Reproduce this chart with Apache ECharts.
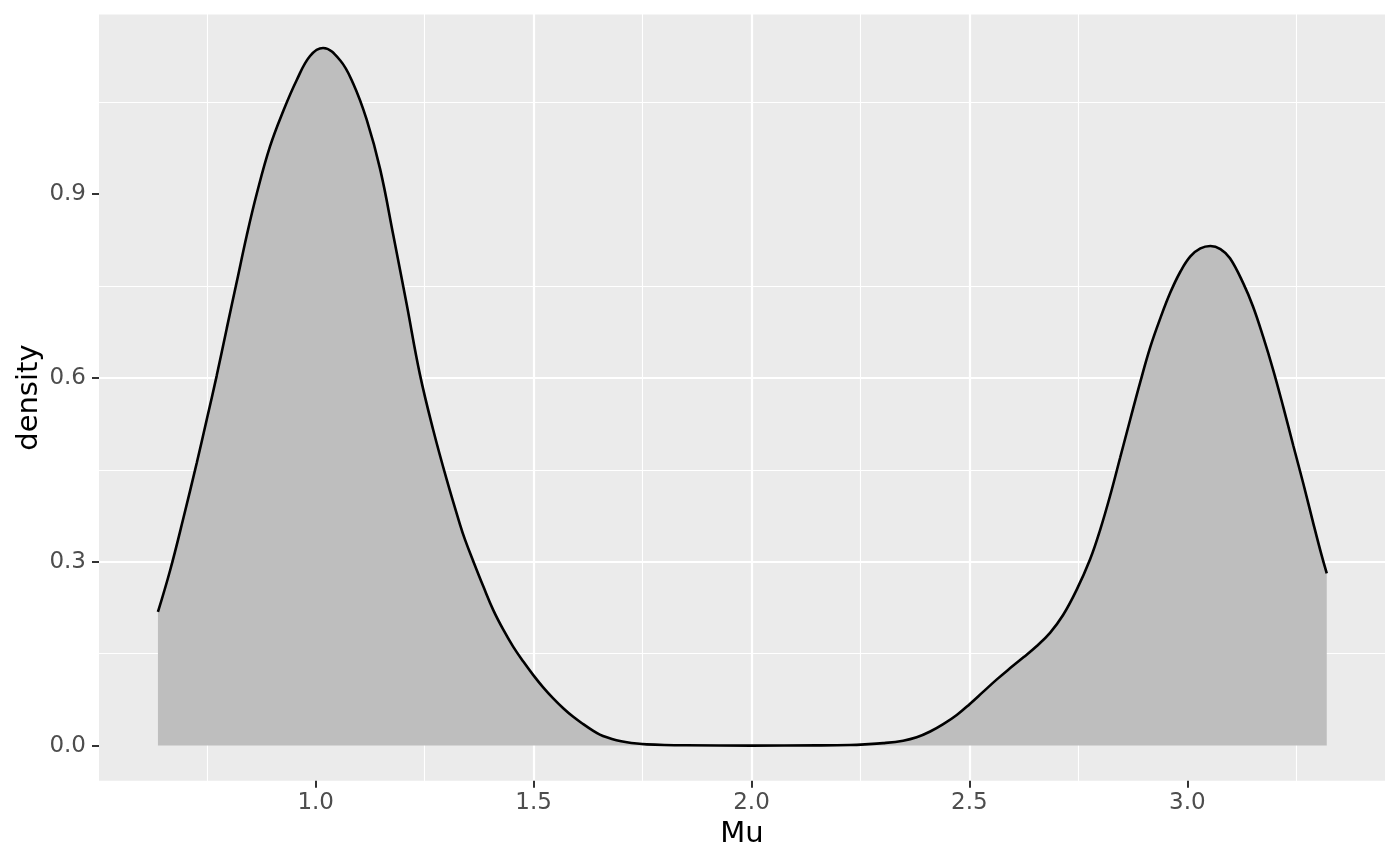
<!DOCTYPE html>
<html><head><meta charset="utf-8">
<script src="https://cdn.jsdelivr.net/npm/echarts@6/dist/echarts.min.js"></script>
<style>html,body{margin:0;padding:0;background:#fff}#c{width:1400px;height:865px}</style>
</head><body><div id="c"></div>
<script>
// ---- data ----
const muValues = [0.638,0.666,0.696,0.727,0.750,0.773,0.796,0.819,0.842,0.865,0.895,0.926,0.956,0.987,1.017,1.056,1.086,1.117,1.148,1.178,1.209,1.239,1.270,1.301,1.331,1.3426,1.362,1.385,1.4075,1.4305,1.4534,1.4764,1.4993,1.522,1.545,1.568,1.591,1.614,1.637,1.652,1.668,1.690,1.714,1.737,1.760,1.800,1.850,2.000,2.150,2.226,2.260,2.302,2.348,2.379,2.410,2.440,2.471,2.501,2.532,2.563,2.593,2.624,2.654,2.685,2.715,2.746,2.777,2.800,2.823,2.846,2.869,2.892,2.915,2.938,2.961,2.984,3.007,3.030,3.053,3.076,3.098,3.1285,3.151,3.174,3.197,3.220,3.243,3.266,3.289,3.308,3.320];
const densityValues = [0.218,0.286,0.370,0.461,0.532,0.604,0.681,0.757,0.833,0.901,0.977,1.036,1.085,1.125,1.138,1.118,1.080,1.021,0.940,0.833,0.719,0.606,0.514,0.433,0.361,0.336,0.300,0.259,0.221,0.189,0.161,0.137,0.115,0.095,0.077,0.061,0.047,0.035,0.024,0.018,0.0135,0.0088,0.0054,0.0033,0.002,0.001,0.0005,0.0,0.0004,0.001,0.002,0.004,0.008,0.0135,0.023,0.035,0.050,0.068,0.088,0.108,0.126,0.144,0.162,0.184,0.213,0.254,0.304,0.352,0.408,0.470,0.532,0.593,0.650,0.697,0.739,0.773,0.798,0.811,0.815,0.810,0.795,0.754,0.716,0.667,0.613,0.553,0.490,0.428,0.363,0.311,0.281];
const xTickValues = [1.0,1.5,2.0,2.5,3.0];
const yTickValues = [0.0,0.3,0.6,0.9];
const xTitle = 'Mu';
const yTitle = 'density';

// ---- layout ----
const panel = {x: 99, y: 14.5, w: 1286, h: 766.2};
const gridLeft = 97.8, gridWidth = 1307.4, gridTop = 10.0, gridHeight = 919.5;
const FONT = '"DejaVu Sans", sans-serif';

const seriesData = muValues.map((m, i) => [m, densityValues[i]]);
const chart = echarts.init(document.getElementById('c'), null, {renderer: 'canvas'});

const axisCommon = {
  type: 'value',
  axisLine: {show: false, onZero: false},
  minorTick: {show: false, splitNumber: 2},
  minorSplitLine: {show: true, lineStyle: {color: '#FFFFFF', width: 1.1}},
  splitLine: {show: true, showMinLine: false, showMaxLine: false, lineStyle: {color: '#FFFFFF', width: 2.2}}
};

chart.setOption({
  animation: false,
  backgroundColor: '#FFFFFF',
  grid: {left: gridLeft, top: gridTop, width: gridWidth, height: gridHeight, outerBoundsMode: 'none', containLabel: false},
  xAxis: Object.assign({}, axisCommon, {
    min: 0.5, max: 3.5, interval: 0.5,
    offset: -(gridTop + gridHeight - (panel.y + panel.h)),
    axisTick: {show: true, length: 7, lineStyle: {color: '#333333', width: 2}, customValues: xTickValues},
    axisLabel: {customValues: xTickValues, formatter: v => xTickValues.some(t => Math.abs(t - v) < 1e-9) ? v.toFixed(1) : '',
      color: '#4D4D4D', fontSize: 23, fontFamily: FONT, margin: 11}
  }),
  yAxis: Object.assign({}, axisCommon, {
    min: -0.3, max: 1.2, interval: 0.3,
    offset: -(panel.x - gridLeft),
    axisTick: {show: true, length: 7, lineStyle: {color: '#333333', width: 2}, customValues: yTickValues},
    axisLabel: {customValues: yTickValues, formatter: v => yTickValues.some(t => Math.abs(t - v) < 1e-9) ? v.toFixed(1) : '',
      color: '#4D4D4D', fontSize: 23, fontFamily: FONT, margin: 13}
  }),
  graphic: {elements: [
    {type: 'rect', z: -10, silent: true, shape: {x: panel.x, y: panel.y, width: panel.w, height: panel.h}, style: {fill: '#EBEBEB'}},
    {type: 'text', z: 100, x: panel.x + panel.w / 2, y: 834, silent: true,
      style: {text: xTitle, fill: '#000000', fontSize: 29, fontFamily: FONT, align: 'center', verticalAlign: 'middle'}},
    {type: 'text', z: 100, x: 29.5, y: panel.y + panel.h / 2, rotation: Math.PI / 2, silent: true,
      style: {text: yTitle, fill: '#000000', fontSize: 29, fontFamily: FONT, align: 'center', verticalAlign: 'middle'}}
  ]},
  series: [{
    type: 'line', data: seriesData, symbol: 'none', showSymbol: false, smooth: 0.4, z: 2,
    lineStyle: {color: '#000000', width: 2.6},
    areaStyle: {color: '#BEBEBE', opacity: 1}
  }]
});
</script></body></html>
